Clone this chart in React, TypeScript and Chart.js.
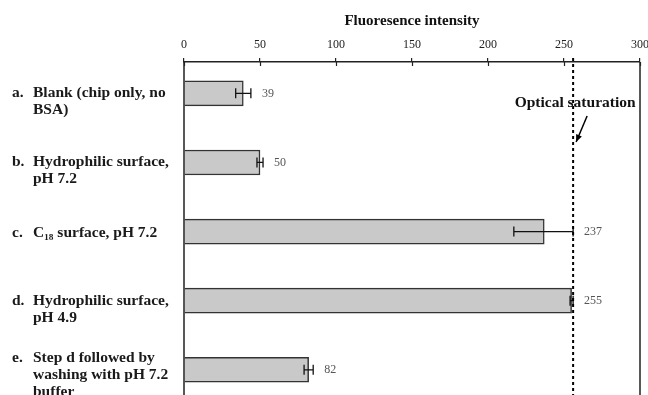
import React, { useEffect, useRef } from "react";
import { Chart, registerables } from "chart.js";

Chart.register(...registerables);

const categoryLetters = ["a.", "b.", "c.", "d.", "e."];
const categoryLines = [
  ["Blank (chip only, no", "BSA)"],
  ["Hydrophilic surface,", "pH 7.2"],
  ["C\u2081\u2088 surface, pH 7.2"],
  ["Hydrophilic surface,", "pH 4.9"],
  ["Step d followed by", "washing with pH 7.2", "buffer"],
];
const values = [39, 50, 237, 255, 82];
const errMinus = [5, 2, 20, 1, 3];
const errPlus = [5, 2, 19, 1, 3];
const valueLabels = ["39", "50", "237", "255", "82"];
const xTicks = [0, 50, 100, 150, 200, 250, 300];
const saturationValue = 256;
const axisTitle = "Fluoresence intensity";
const saturationLabel = "Optical saturation";

const SERIF = "'Liberation Serif', 'DejaVu Serif', serif";

const decorPlugin = {
  id: "decor",
  afterDatasetsDraw(chart: any) {
    const ctx = chart.ctx;
    const xs = chart.scales.x;
    const ys = chart.scales.y;
    const area = chart.chartArea;
    ctx.save();
    // left axis and right border
    ctx.strokeStyle = "#222";
    ctx.lineWidth = 1.5;
    ctx.beginPath();
    ctx.moveTo(area.left, area.top);
    ctx.lineTo(area.left, area.bottom);
    ctx.moveTo(area.right, area.top);
    ctx.lineTo(area.right, area.bottom);
    ctx.stroke();
    // lower half of tick marks
    ctx.lineWidth = 1.2;
    ctx.beginPath();
    xTicks.forEach((t) => {
      const px = Math.round(xs.getPixelForValue(t)) + 0.5;
      ctx.moveTo(px, area.top);
      ctx.lineTo(px, area.top + 4);
    });
    ctx.stroke();
    // error bars and value labels
    values.forEach((v, i) => {
      const cy = ys.getPixelForValue(i);
      const x1 = xs.getPixelForValue(v - errMinus[i]);
      const x2 = xs.getPixelForValue(v + errPlus[i]);
      ctx.strokeStyle = "#111";
      ctx.lineWidth = 1.3;
      ctx.beginPath();
      ctx.moveTo(x1, cy);
      ctx.lineTo(x2, cy);
      ctx.moveTo(x1, cy - 5);
      ctx.lineTo(x1, cy + 5);
      ctx.moveTo(x2, cy - 5);
      ctx.lineTo(x2, cy + 5);
      ctx.stroke();
      ctx.fillStyle = "#555";
      ctx.font = "12px " + SERIF;
      ctx.textAlign = "left";
      ctx.textBaseline = "middle";
      ctx.fillText(valueLabels[i], x2 + 11, cy);
    });
    // category labels
    ctx.fillStyle = "#1a1a1a";
    ctx.font = "bold 15.5px " + SERIF;
    ctx.textAlign = "left";
    ctx.textBaseline = "middle";
    categoryLines.forEach((lines, i) => {
      const cy = ys.getPixelForValue(i);
      const n = lines.length;
      const firstY = cy + 1 - (n === 3 ? 13 : n === 2 ? 1 : 0);
      ctx.fillText(categoryLetters[i], 12, firstY);
      lines.forEach((ln, k) => {
        ctx.fillText(ln, 33, firstY + k * 17);
      });
    });
    // saturation line
    const sx = xs.getPixelForValue(saturationValue);
    ctx.strokeStyle = "#000";
    ctx.lineWidth = 2;
    ctx.setLineDash([3, 3]);
    ctx.beginPath();
    ctx.moveTo(sx, area.top - 4);
    ctx.lineTo(sx, area.bottom);
    ctx.stroke();
    ctx.setLineDash([]);
    // saturation label
    ctx.fillStyle = "#111";
    ctx.font = "bold 15.5px " + SERIF;
    ctx.textAlign = "center";
    ctx.textBaseline = "middle";
    ctx.fillText(saturationLabel, sx + 2, area.top + 41);
    // arrow
    const ax1 = sx + 14, ay1 = area.top + 54;
    const ax2 = sx + 3, ay2 = area.top + 80;
    ctx.strokeStyle = "#000";
    ctx.lineWidth = 1.5;
    ctx.beginPath();
    ctx.moveTo(ax1, ay1);
    ctx.lineTo(ax2, ay2);
    ctx.stroke();
    const ang = Math.atan2(ay2 - ay1, ax2 - ax1);
    const hl = 8;
    ctx.fillStyle = "#000";
    ctx.beginPath();
    ctx.moveTo(ax2, ay2);
    ctx.lineTo(ax2 - hl * Math.cos(ang - 0.4), ay2 - hl * Math.sin(ang - 0.4));
    ctx.lineTo(ax2 - hl * Math.cos(ang + 0.4), ay2 - hl * Math.sin(ang + 0.4));
    ctx.closePath();
    ctx.fill();
    ctx.restore();
  },
};

export default function App() {
  const ref = useRef<HTMLCanvasElement | null>(null);
  useEffect(() => {
    document.body.style.margin = "0";
    const canvas = ref.current;
    if (!canvas) return;
    const chart = new Chart(canvas, {
      type: "bar",
      data: {
        datasets: [
          {
            data: values.map((v, i) => ({ x: v, y: i })),
            backgroundColor: "#c9c9c9",
            borderColor: "#333",
            borderWidth: 1.5,
            barThickness: 25,
          } as any,
        ],
      },
      options: {
        indexAxis: "y",
        responsive: false,
        animation: false,
        devicePixelRatio: 1,
        layout: { padding: { left: 184, right: 8, top: 0, bottom: 0 } },
        plugins: {
          legend: { display: false },
          tooltip: { enabled: false },
        },
        scales: {
          x: {
            type: "linear",
            position: "top",
            min: 0,
            max: 300,
            afterFit: (s: any) => {
              s.height = 62;
              s.paddingLeft = 0;
              s.paddingRight = 0;
            },
            afterBuildTicks: (s: any) => {
              s.ticks = xTicks.map((v) => ({ value: v }));
            },
            ticks: {
              font: { family: SERIF, size: 12 },
              color: "#222",
              padding: 6,
              maxRotation: 0,
              autoSkip: false,
            },
            grid: {
              display: true,
              drawOnChartArea: false,
              drawTicks: true,
              tickLength: 4,
              color: "#222",
              lineWidth: 1.2,
            },
            border: { display: true, color: "#222", width: 1.5 },
            title: {
              display: true,
              text: axisTitle,
              font: { family: SERIF, size: 15, weight: "bold" },
              color: "#111",
              padding: { top: 12, bottom: 0 },
            },
          },
          y: {
            type: "linear",
            display: false,
            reverse: true,
            offset: false,
            min: -0.454,
            max: 4.365,
          },
        },
      } as any,
      plugins: [decorPlugin],
    });
    return () => chart.destroy();
  }, []);
  return (
    <div style={{ width: 648, height: 395, background: "#fff" }}>
      <canvas ref={ref} width={648} height={395} style={{ display: "block" }} />
    </div>
  );
}
